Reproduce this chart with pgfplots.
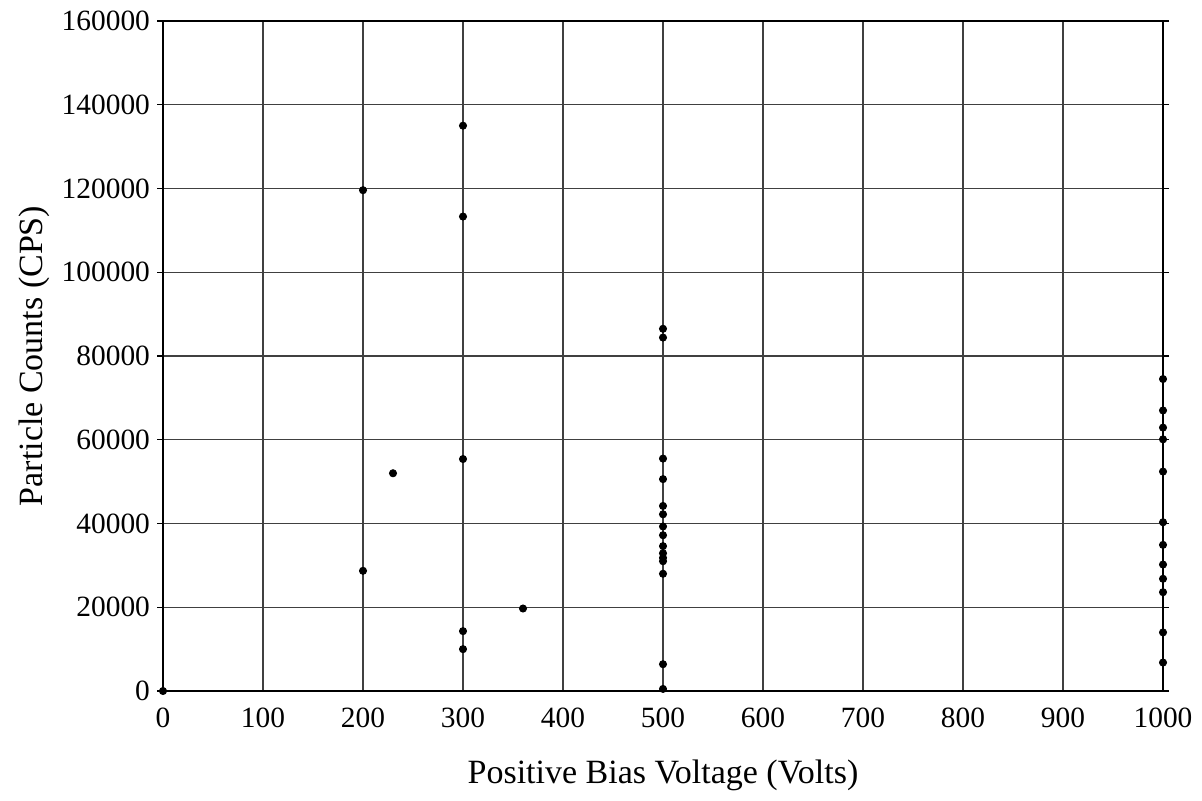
\documentclass[border=0pt]{standalone}
\usepackage{fontspec}
\setmainfont{Liberation Serif}
\usepackage{pgfplots}
\pgfplotsset{compat=1.18}
\begin{document}
\begin{tikzpicture}
\begin{axis}[
  scale only axis,
  width=500pt, height=335pt,
  xmin=0, xmax=1000, ymin=0, ymax=160000,
  xtick={0,100,...,1000},
  ytick={0,20000,...,160000},
  scaled ticks=false,
  /pgf/number format/assume math mode=true,
  xticklabel={\pgfmathprintnumber[fixed,precision=0,1000 sep={}]{\tick}},
  yticklabel={\pgfmathprintnumber[fixed,precision=0,1000 sep={}]{\tick}},
  tick label style={font=\fontsize{14.7}{17}\selectfont},
  xticklabel style={yshift=-2pt},
  label style={font=\fontsize{17}{20}\selectfont},
  xlabel={Positive Bias Voltage (Volts)},
  ylabel={Particle Counts (CPS)},
  xlabel style={yshift=-9pt},
  ylabel style={yshift=-1pt},
  grid=major,
  major grid style={black!75, line width=0.6pt},
  axis line style={black, line width=0.7pt},
  tick align=outside,
  major tick length=3pt,
  xtick style={draw=none},
  ytick style={black, line width=0.6pt},
  clip=false,
]
\addplot[only marks, mark=*, mark size=1.8pt, black] coordinates {
(0,0)
(200,119600) (200,28700)
(230,52000)
(300,135000) (300,113300) (300,55400) (300,14300) (300,10000)
(360,19700)
(500,86500) (500,84400) (500,55500) (500,50600) (500,44200) (500,42200)
(500,39300) (500,37200) (500,34600) (500,32900) (500,31800) (500,31000)
(500,28000) (500,6400) (500,500)
(1000,74500) (1000,67000) (1000,62900) (1000,60100) (1000,52400)
(1000,40300) (1000,34900) (1000,30200) (1000,26800) (1000,23600)
(1000,14000) (1000,6800)
};
\coordinate (sw) at (rel axis cs:0,0);
\coordinate (ne) at (rel axis cs:1,1);
\end{axis}
\pgfresetboundingbox
\path ([shift={(-81.5pt,-54.5pt)}]sw) rectangle ([shift={(19.5pt,10.5pt)}]ne);
\end{tikzpicture}
\end{document}
